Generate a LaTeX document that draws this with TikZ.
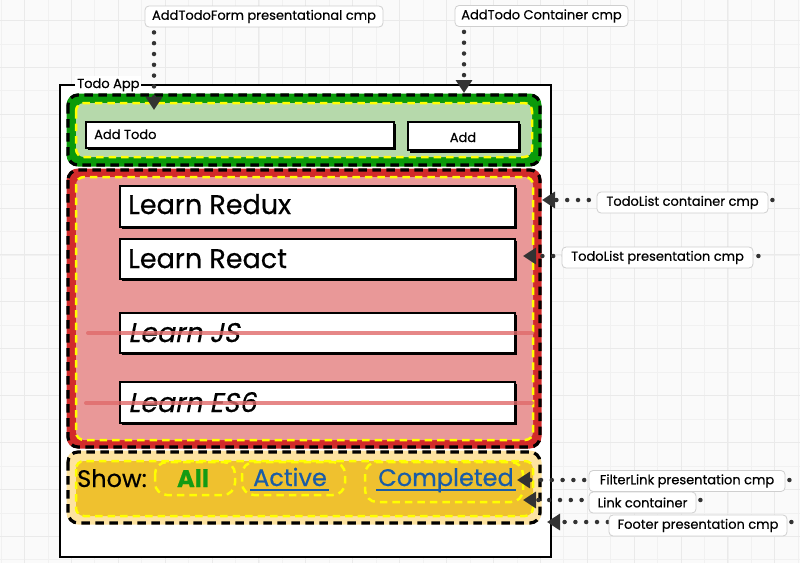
\documentclass[tikz,border=0pt]{standalone}
\usepackage{fontspec}
\setmainfont{Poppins}[FakeBold=0.5]
\newfontfamily\slfont[FakeSlant=0.2,FakeBold=0.5]{Poppins}
\usetikzlibrary{arrows.meta,calc}
\definecolor{bggray}{HTML}{FAFAFA}
\definecolor{gridminor}{HTML}{F1F1F1}
\definecolor{gridmajor}{HTML}{EAEAEA}
\definecolor{dkgreen}{HTML}{0A9A0A}
\definecolor{ltgreen}{HTML}{B6D9AB}
\definecolor{dkred}{HTML}{D22A2A}
\definecolor{pinkfill}{HTML}{E99898}
\definecolor{ltyellow}{HTML}{FDE3A0}
\definecolor{ftyellow}{HTML}{EFC12F}
\definecolor{yel}{HTML}{FFFF00}
\definecolor{strikec}{HTML}{E06A6A}
\definecolor{linkblue}{HTML}{1A5CA6}
\definecolor{allgreen}{HTML}{139B13}
\definecolor{connc}{HTML}{333333}
\definecolor{calloutb}{HTML}{CFCFCF}
\newcommand\fsz[1]{\fontsize{#1}{#1}\selectfont}
\pgfdeclarelayer{back}
\pgfdeclarelayer{conn}
\pgfsetlayers{back,conn,main}
\tikzset{
  bandfill/.style={fill=#1, draw=#1, line width=3pt, rounded corners=10pt},
  blackdash/.style={draw=black, line width=3.2pt, dash pattern=on 8.5pt off 5.5pt, rounded corners=10pt},
  innerbox/.style={fill=#1, draw=yel, line width=2.5pt, dash pattern=on 7.5pt off 5pt, rounded corners=8pt},
  yelldash/.style={draw=yel, line width=2.5pt, dash pattern=on 7.5pt off 5pt, rounded corners=12pt},
  whitebox/.style={draw=black, fill=white, line width=2.4pt},
  shadowbox/.style={fill=black},
  striker/.style={draw=strikec, line width=4pt, line cap=round, opacity=0.8},
  itemtext/.style={anchor=base west, inner sep=0pt, font=\fsz{27}},
  callout/.style={draw=calloutb, fill=white, rounded corners=4pt, line width=0.8pt,
     inner sep=0pt, minimum height=21pt, font=\fsz{13}, text=black},
  connline/.style={draw=connc, line width=4.5pt, line cap=round, dash pattern=on 0pt off 10.8pt,
     -{Triangle[width=16pt,length=13pt]}, color=connc},
}
\begin{document}
\begin{tikzpicture}[x=1pt,y=-1pt]
\useasboundingbox (0,0) rectangle (800,563);
\begin{pgfonlayer}{back}
\fill[bggray] (0,0) rectangle (800,563);
\foreach \i in {0,...,34} {\draw[gridminor, line width=0.8pt] ({23.45*\i+1},0) -- ({23.45*\i+1},563);}
\foreach \i in {0,...,24} {\draw[gridminor, line width=0.8pt] (0,{23.45*\i-3}) -- (800,{23.45*\i-3});}
\foreach \i in {1,3,...,33} {\draw[gridmajor, line width=1pt] ({23.45*\i+1},0) -- ({23.45*\i+1},563);}
\foreach \i in {1,3,...,23} {\draw[gridmajor, line width=1pt] (0,{23.45*\i-3}) -- (800,{23.45*\i-3});}
% app frame
\draw[line width=2.8pt, fill=white] (60,85) rectangle (551,557);
\node[fill=white, inner sep=2pt, anchor=base west, font=\fsz{13}] (applabel) at (75,88) {Todo App};
% AddTodo container
\path[bandfill=dkgreen] (68,95) rectangle (540,165);
\path[blackdash] (68,95) rectangle (540,165);
\path[innerbox=ltgreen] (76,103) rectangle (532,157);
\fill[shadowbox] (87.5,124) rectangle (395.5,150);
\path[whitebox] (86,122) rectangle (394,148);
\node[anchor=base west, inner sep=0pt, font=\fsz{13}] (addtodo) at (94,139) {Add Todo};
\fill[shadowbox] (410,124) rectangle (521,152.5);
\path[whitebox] (408,122) rectangle (519,150);
\node[anchor=base, inner sep=0pt, font=\fsz{13}] (addbtn) at (463,142) {Add};
% TodoList
\path[bandfill=dkred] (68,170) rectangle (540,447);
\path[blackdash] (68,170) rectangle (540,447);
\path[innerbox=pinkfill] (76,177) rectangle (533,440);
\foreach \ya/\yb in {186/227, 239/279, 313/353, 382/423} {
  \fill[shadowbox] (121.5,\ya+1.5) rectangle (516.5,\yb+1.5);
  \path[whitebox] (120,\ya) rectangle (515,\yb);
}
\node[itemtext] (t1) at (128,214) {Learn Redux};
\node[itemtext] (t2) at (128,268) {Learn React};
\node[itemtext, font=\fsz{27}\slfont] (t3) at (128,342) {Learn JS};
\node[itemtext, font=\fsz{27}\slfont] (t4) at (128,412) {Learn ES6};
\path[striker] (88,333) -- (532,333);
\path[striker] (86,403) -- (532,403);
% Footer
\path[bandfill=ltyellow] (68,452) rectangle (540,523);
\path[blackdash] (68,452) rectangle (540,523);
\path[innerbox=ftyellow] (76,461) rectangle (533,516);
\path[yelldash] (155,462) rectangle (235,495);
\path[yelldash] (242,462) rectangle (345,495);
\path[yelldash] (365,462) rectangle (523,502);
\node[anchor=base west, inner sep=0pt, font=\fsz{24}] (show) at (77,487) {Show:};
\node[anchor=base, inner sep=0pt, font=\fsz{24}\bfseries, text=allgreen] (fall) at (193,487) {All};
\node[anchor=base, inner sep=0pt, font=\fsz{24}, text=linkblue] (factive) at (290,486) {Active};
\node[anchor=base, inner sep=0pt, font=\fsz{24}, text=linkblue] (fcompl) at (446,486) {Completed};
\draw[linkblue, line width=1.5pt] (250,490) -- (329,490);
\draw[linkblue, line width=1.5pt] (376,490) -- (516,490);
\end{pgfonlayer}
% callouts
\node[callout, minimum width=238pt] (c1) at (264,16.5) {AddTodoForm presentational cmp};
\node[callout, minimum width=173pt] (c2) at (541.5,16) {AddTodo Container cmp};
\node[callout, minimum width=171pt] (c3) at (682.5,202.5) {TodoList container cmp};
\node[callout, minimum width=191pt] (c4) at (657.5,257.5) {TodoList presentation cmp};
\node[callout, minimum width=196pt] (c5) at (687,481) {FilterLink presentation cmp};
\node[callout, minimum width=107pt] (c6) at (642.5,502.5) {Link container};
\node[callout, minimum width=178pt] (c7) at (698,525.5) {Footer presentation cmp};
\coordinate (p1) at (154,110);
\coordinate (p2) at (464,93);
\coordinate (p3) at (542,200);
\coordinate (p4) at (523,256);
\coordinate (p5) at (517,480);
\coordinate (p6) at (523,500);
\coordinate (p7) at (547,522);
\begin{pgfonlayer}{conn}
\draw[connline] ($(c1.south -| p1)+(0,5)$) -- (p1);
\draw[connline] ($(c2.south -| p2)+(0,5)$) -- (p2);
\draw[connline] ($(c3.east |- p3)+(4,0)$) -- (p3);
\draw[connline] ($(c4.east |- p4)+(5,0)$) -- (p4);
\draw[connline] ($(c5.east |- p5)+(4,0)$) -- (p5);
\draw[connline] ($(c6.east |- p6)+(4,0)$) -- (p6);
\draw[connline] ($(c7.east |- p7)+(4,0)$) -- (p7);
\end{pgfonlayer}
\end{tikzpicture}
\end{document}
